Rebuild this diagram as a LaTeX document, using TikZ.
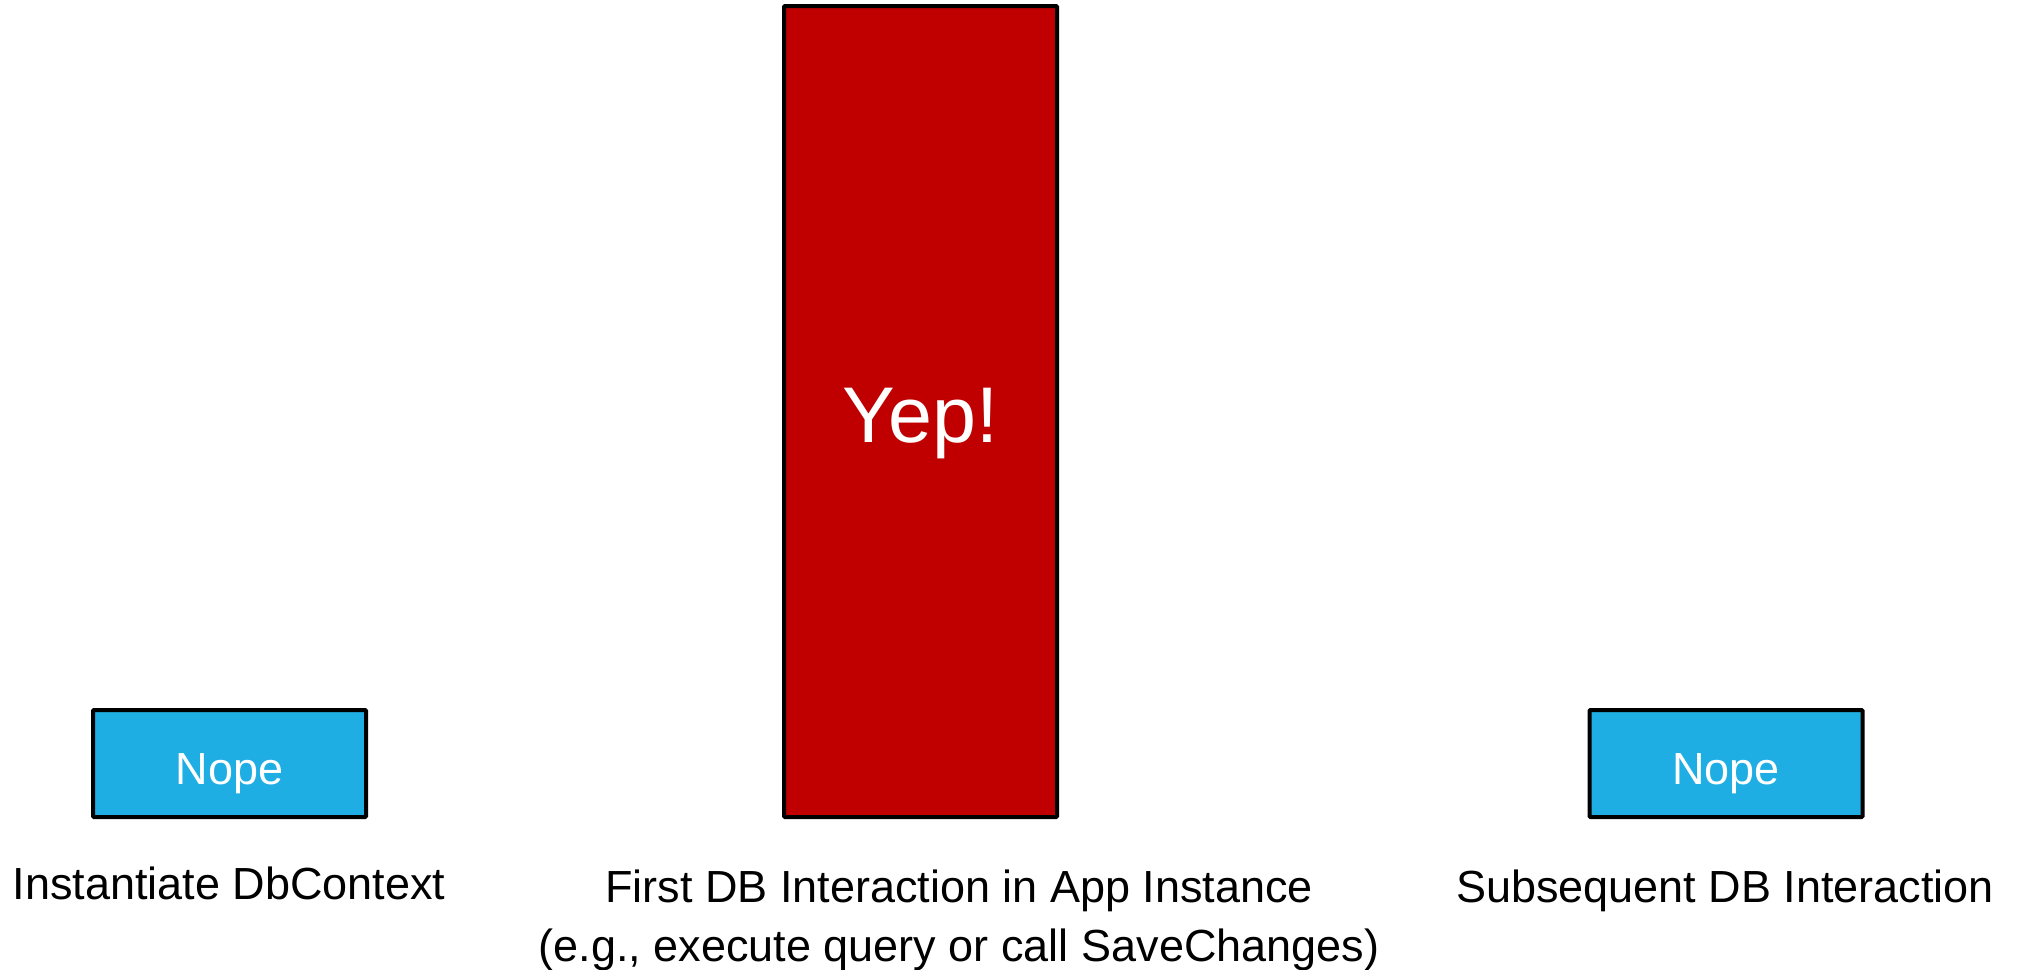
\documentclass[tikz,border=0pt]{standalone}
\usepackage{fontspec}
\setmainfont{Liberation Sans}
\usepackage{tikz}
\usetikzlibrary{positioning}

\definecolor{nopeblue}{HTML}{1FAEE3}
\definecolor{yepred}{HTML}{C00000}

\begin{document}
\begin{tikzpicture}[x=1pt,y=1pt,
    bar/.style={draw=black,line width=4pt,rounded corners=1pt,inner sep=0pt,minimum width=273pt},
    nopebar/.style={bar,fill=nopeblue,minimum height=107pt,text=white,font=\fontsize{45}{50}\selectfont,text height=41pt,text depth=0pt},
    lbl/.style={font=\fontsize{45}{59}\selectfont,align=center,inner sep=0pt}]
%canvas
    \useasboundingbox (0,0) rectangle (2018,-969);

    \node[nopebar] (nope1) at (229.5,-763.5) {Nope};
    \node[bar,fill=yepred,minimum height=811pt] (yep) at (920.5,-411.5) {};
    \node[nopebar] (nope2) at (1726,-763.5) {Nope};

    \node[text=white,font=\fontsize{79}{90}\selectfont] (yeptext) at (920.5,-424) {Yep!};

    \node[lbl] (inst) at (229,-883) {Instantiate DbContext};
    \node[lbl] (first) at (959,-920) {First DB Interaction in App Instance\\(e.g., execute query or call SaveChanges)};
    \node[lbl] (subs) at (1725,-891) {Subsequent DB Interaction};
\end{tikzpicture}
\end{document}
